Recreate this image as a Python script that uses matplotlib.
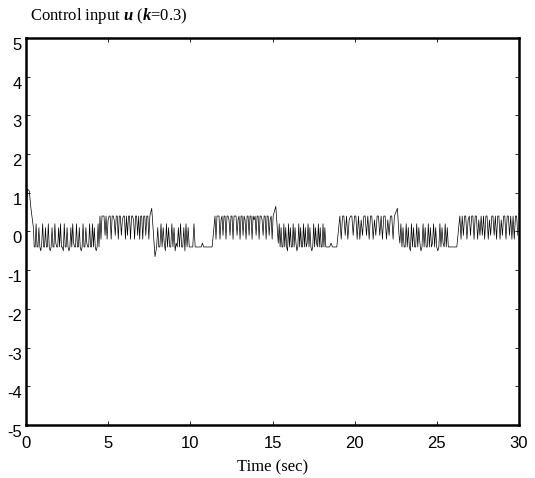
import numpy as np
import matplotlib
matplotlib.use('Agg')
import matplotlib.pyplot as plt
import matplotlib.transforms as mtransforms

plt.rcParams['axes.unicode_minus'] = False
plt.rcParams['mathtext.fontset'] = 'custom'
plt.rcParams['mathtext.rm'] = 'Liberation Serif'
plt.rcParams['mathtext.bfit'] = 'Liberation Serif:italic:bold'

# start transient (t, u)
start_t = [0.0, 0.03, 0.08, 0.2, 0.3, 0.45]
start_u = [-0.9, -0.2, 1.1, 1.05, 0.6, 0.1]

# chattering segments: start, end, digit pattern (u = -0.5 + 0.1*digit)
seg_t0 = [0.5, 4.5, 7.95, 10.0, 11.5, 15.35, 18.3, 19.1, 22.75, 25.7, 26.4]
seg_t1 = [4.5, 7.6, 10.0, 11.4, 15.1, 18.3, 19.0, 22.5, 25.7, 26.3, 30.0]
seg_pat = [
    "1171161027116117101611721161711071161016172117116101711621171171610171",
    "93999493899399849939948993949939983994939939949939",
    "1611716207161171602161711607161",
    "1117111111211111111",
    "93999389499399849939994893994983994993989499399849939948939",
    "2716117161071611716201716117161271610171621716117161",
    "11121111",
    "939949389949939384994939938499493993849939",
    "2716117161071611716201716117161271610171621716",
    "1111111",
    "93949938949939938494939938499493993849939949393994",
]

# isolated spikes at segment changes (t, u)
spike_t = [7.65, 7.85, 15.2, 15.3, 22.6, 22.7]
spike_u = [0.6, -0.65, 0.65, 0.0, 0.6, -0.1]

t = list(start_t)
u = list(start_u)
for t0, t1, pat in zip(seg_t0, seg_t1, seg_pat):
    tt = np.linspace(t0, t1, len(pat), endpoint=False)
    t.extend(tt)
    u.extend([-0.5 + 0.1 * int(c) for c in pat])
t.extend(spike_t)
u.extend(spike_u)
order = np.argsort(t, kind='stable')
t = np.array(t)[order]
u = np.array(u)[order]

fig = plt.figure(figsize=(5.35, 4.78), dpi=100)
ax = fig.add_axes([0.0486, 0.1109, 0.9215, 0.8096])
ax.plot(t, u, color='black', lw=0.5)

ax.set_xlim(0, 30)
ax.set_ylim(-5, 5)
ax.set_xticks(np.arange(0, 31, 5))
ax.set_yticks(np.arange(-5, 6, 1))
ax.tick_params(direction='in', length=3, width=0.6, top=True, right=True,
               labelsize=12)
ax.tick_params(axis='x', pad=8)
ax.tick_params(axis='y', pad=3)
for lab in ax.get_xticklabels() + ax.get_yticklabels():
    lab.set_family('Liberation Sans')
off = mtransforms.ScaledTranslation(0, -6 / 100, fig.dpi_scale_trans)
for lab in ax.get_yticklabels():
    lab.set_transform(lab.get_transform() + off)
for sp in ax.spines.values():
    sp.set_linewidth(1.8)

fig.text(0.056, 0.966, r'Control input $\mathbfit{u}$ ($\mathbfit{k}$=0.3)',
         family='Liberation Serif', fontsize=12, ha='left', va='center')
ax.set_xlabel('Time (sec)', family='Liberation Serif', fontsize=12, labelpad=6)

fig.savefig('out.png', dpi=100)
